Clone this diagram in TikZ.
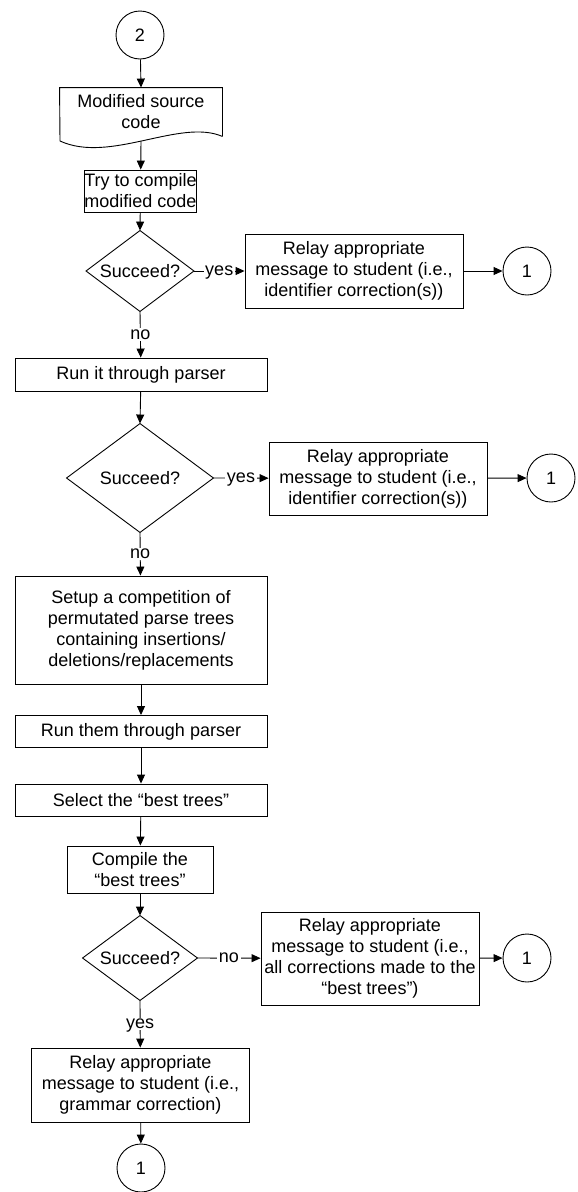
\documentclass[tikz,border=0pt]{standalone}
\usepackage{fontspec}
\setmainfont{Liberation Sans}
\usetikzlibrary{arrows.meta}

\begin{document}
\begin{tikzpicture}[x=1pt,y=-1pt,line width=0.9pt,
        >={Triangle[length=9pt,width=8pt]},
        every node/.style={font=\fontsize{18}{21}\selectfont},
        box/.style={draw,align=center,inner sep=0pt},
        conn/.style={draw,circle,minimum size=48pt,inner sep=0pt},
        lbl/.style={fill=white,inner sep=1.5pt,text depth=0pt}]
    \useasboundingbox (0,0) rectangle (578,1192);

    % connectors
    \begin{scope}[conn]
        \node[conn] (C2) at (140,35) {2};
        \node[conn] (C1a) at (527,271) {1};
        \node[conn] (C1b) at (551,478) {1};
        \node[conn] (C1c) at (527,958) {1};
        \node[conn] (C1d) at (141,1168) {1};
    \end{scope}

    % document
    \node[align=center,inner sep=0pt,minimum width=162pt,minimum height=48pt] (Doc) at (141,112) {Modified source\\code};
    \draw (Doc.south east) -- (Doc.north east) -- (Doc.north west) -- (60,141)
        .. controls (110,164) and (180,118) .. (Doc.south east);
    \coordinate (DocB) at (141,141);

    % boxes
    \node[box,minimum width=107pt,minimum height=42pt] (Try) at (140.5,191) {Try to compile\\modified code};
    \node[box,minimum width=218pt,minimum height=74pt] (R1) at (354,271) {Relay appropriate\\message to student (i.e.,\\identifier correction(s))};
    \node[box,minimum width=252pt,minimum height=33pt] (Run1) at (141,374.5) {Run it through parser};
    \node[box,minimum width=218pt,minimum height=73pt] (R2) at (378,478.5) {Relay appropriate\\message to student (i.e.,\\identifier correction(s))};
    \node[box,minimum width=252pt,minimum height=108pt] (Setup) at (141,630) {Setup a competition of\\permutated parse trees\\containing insertions/\\deletions/replacements};
    \node[box,minimum width=252pt,minimum height=32pt] (Run2) at (141,731.5) {Run them through parser};
    \node[box,minimum width=252pt,minimum height=32pt] (Select) at (141,800) {Select the “best trees”};
    \node[box,minimum width=146pt,minimum height=47pt] (Compile) at (140,869.5) {Compile the\\“best trees”};
    \node[box,minimum width=218pt,minimum height=93pt] (R3) at (370,958.5) {Relay appropriate\\message to student (i.e.,\\all corrections made to the\\“best trees”)};
    \node[box,minimum width=218pt,minimum height=74pt] (R4) at (140.5,1085) {Relay appropriate\\message to student (i.e.,\\grammar correction)};

    % decisions
    \node[inner sep=0pt,minimum width=107pt,minimum height=80pt] (D1) at (140,271) {Succeed?};
    \node[inner sep=0pt,minimum width=146pt,minimum height=108pt] (D2) at (140,478) {Succeed?};
    \node[inner sep=0pt,minimum width=114pt,minimum height=84pt] (D3) at (140,958) {Succeed?};
    \foreach \d in {D1,D2,D3} {
            \draw (\d.north) -- (\d.east) -- (\d.south) -- (\d.west) -- cycle;
        }

    \begin{scope}[->]
        \draw (C2) -- (Doc.north);
        \draw (DocB) -- (Try);
        \draw (Try) -- (D1.north);
        \draw (D1.east) -- (R1) node[lbl,midway] {yes};
        \draw (R1) -- (C1a);
        \draw (D1.south) -- (Run1) node[lbl,midway] {no};
        \draw (Run1) -- (D2.north);
        \draw (D2.east) -- (R2) node[lbl,midway] {yes};
        \draw (R2) -- (C1b);
        \draw (D2.south) -- (Setup) node[lbl,midway] {no};
        \draw (Setup) -- (Run2);
        \draw (Run2) -- (Select);
        \draw (Select) -- (Compile);
        \draw (Compile) -- (D3.north);
        \draw (D3.east) -- (R3) node[lbl,midway] {no};
        \draw (R3) -- (C1c);
        \draw (D3.south) -- (R4) node[lbl,midway] {yes};
        \draw (R4) -- (C1d);
    \end{scope}
\end{tikzpicture}
\end{document}
